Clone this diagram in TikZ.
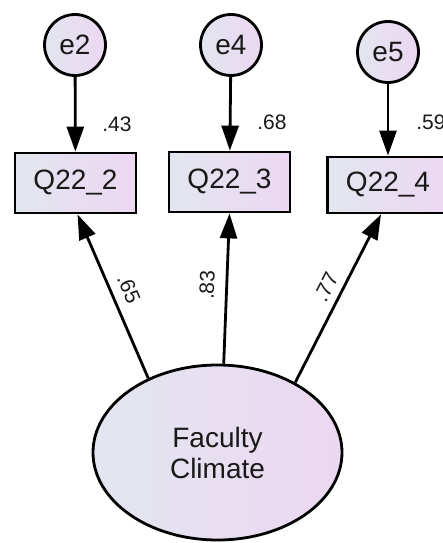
\documentclass[tikz,border=0pt]{standalone}
\usepackage{fontspec}
\setmainfont{Liberation Sans}
\usetikzlibrary{arrows.meta,shapes.geometric}
\definecolor{fillA}{RGB}{226,230,239}
\definecolor{fillB}{RGB}{236,215,242}
\definecolor{ink}{RGB}{25,25,25}
\begin{document}
\begin{tikzpicture}[x=1pt,y=1pt,
  shaded/.style={draw=black,line width=2.8pt,left color=fillA,right color=fillB,
    text=ink,font=\fontsize{28}{31}\selectfont,inner sep=0pt},
  errvar/.style={shaded,circle,minimum size=61pt},
  obsvar/.style={shaded,rectangle,minimum width=121pt,minimum height=60pt},
  latvar/.style={shaded,ellipse,minimum width=249pt,minimum height=175pt,align=center},
  coef/.style={text=ink,font=\fontsize{21}{24}\selectfont,inner sep=0pt},
  path/.style={line width=2.8pt,-{Triangle[length=25pt,width=17pt]}}]
\useasboundingbox (0,0) rectangle (443,543);

% error terms
\node[errvar] (e2) at (75,498) {e2};
\node[errvar] (e4) at (231,498) {e4};
\node[errvar] (e5) at (388,491) {e5};

% observed indicators
\node[obsvar] (q2) at (75.5,360) {Q22\_2};
\node[obsvar] (q3) at (229.5,361) {Q22\_3};
\node[obsvar,minimum height=56pt] (q4) at (388,358) {Q22\_4};

% latent factor
\node[latvar] (fc) at (217.5,90.5) {Faculty\\Climate};

% error paths
\draw[path] (e2) -- (q2);
\draw[path] (e4) -- (q3);
\draw[path] (e5) -- (q4);

% loadings
\draw[path] (fc.133) -- ([xshift=2pt]q2.south);
\draw[path] (fc.86) -- (q3.south);
\draw[path] (fc.42) -- ([xshift=-7pt]q4.south);

% squared multiple correlations
\node[coef] (r2) at (117,419) {.43};
\node[coef] (r3) at (272,421) {.68};
\node[coef] (r4) at (431,421) {.59};

% standardized loadings
\node[coef,rotate=-67] (l2) at (129,254) {.65};
\node[coef,rotate=88] (l3) at (207,258) {.83};
\node[coef,rotate=63] (l4) at (326,256) {.77};
\end{tikzpicture}
\end{document}
